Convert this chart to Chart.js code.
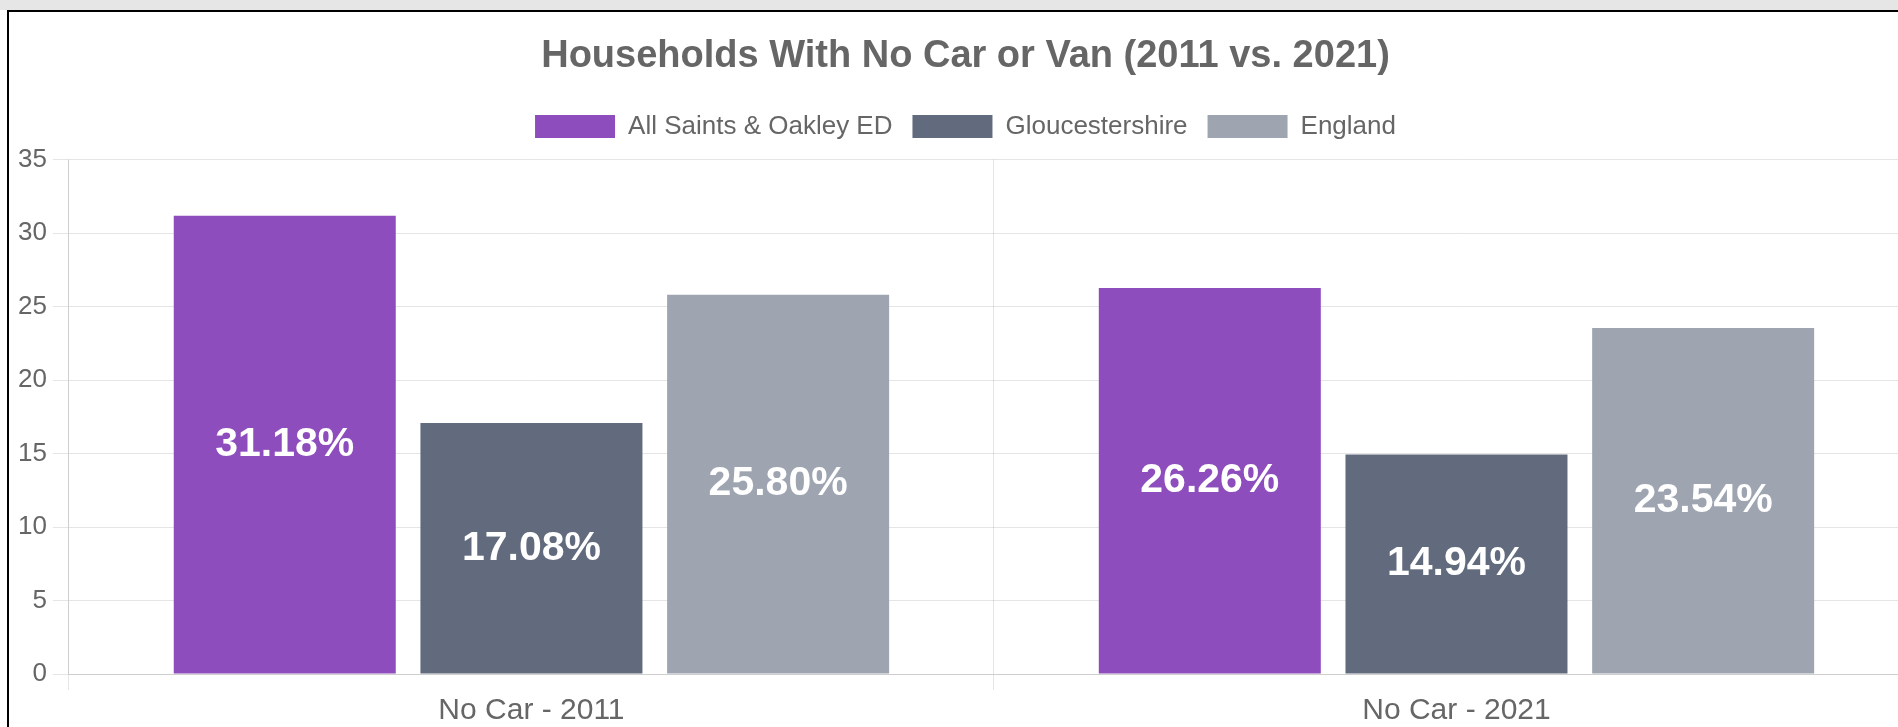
<!DOCTYPE html>
<html>
<head>
<meta charset="utf-8">
<title>Households With No Car or Van</title>
<script src="https://cdn.jsdelivr.net/npm/chart.js@4.4.0/dist/chart.umd.min.js"></script>
<style>
    body { margin: 0; background: #fff; overflow: hidden; }
    .topbar { height: 10px; background: #e6e6e6; }
    .frame {
        margin-left: 7px;
        border-left: 2px solid #000;
        border-top: 2px solid #000;
        width: 1914px;
        height: 760px;
    }
    canvas { display: block; }
</style>
</head>
<body>
<div class="topbar"></div>
<div class="frame">
    <canvas id="carChart" width="1914" height="720"></canvas>
</div>

<script>
// chart data
const categories = ['No Car - 2011', 'No Car - 2021'];
const allSaints = [31.18, 26.26];
const gloucestershire = [17.08, 14.94];
const england = [25.80, 23.54];
const yTicks = [0, 5, 10, 15, 20, 25, 30, 35];

const fontFamily = "'Liberation Sans', Arial, sans-serif";

// writes the value in the middle of every bar
const barLabels = {
    id: 'barLabels',
    afterDatasetsDraw(chart) {
        const ctx = chart.ctx;
        ctx.save();
        ctx.font = 'bold 41px ' + fontFamily;
        ctx.fillStyle = '#fff';
        ctx.textAlign = 'center';
        ctx.textBaseline = 'middle';
        chart.data.datasets.forEach(function (ds, i) {
            chart.getDatasetMeta(i).data.forEach(function (bar, j) {
                ctx.fillText(ds.data[j].toFixed(2) + '%', bar.x, (bar.y + bar.base) / 2);
            });
        });
        ctx.restore();
    }
};

// a bit more room under the legend
const legendGap = {
    id: 'legendGap',
    beforeInit(chart) {
        const fit = chart.legend.fit;
        chart.legend.fit = function () {
            fit.bind(chart.legend)();
            this.height += 10;
        };
    }
};

const ctx = document.getElementById('carChart').getContext('2d');
const chart = new Chart(ctx, {
    type: 'bar',
    data: {
        labels: categories,
        datasets: [{
            label: 'All Saints & Oakley ED',
            backgroundColor: 'rgb(142, 77, 189)',
            data: allSaints
        }, {
            label: 'Gloucestershire',
            backgroundColor: 'rgb(97, 107, 125)',
            data: gloucestershire
        }, {
            label: 'England',
            backgroundColor: 'rgb(158, 165, 177)',
            data: england
        }]
    },
    options: {
        responsive: false,
        animation: false,
        devicePixelRatio: 1,
        layout: { padding: { left: 3, right: 4 } },
        plugins: {
            title: {
                display: true,
                text: 'Households With No Car or Van (2011 vs. 2021)',
                color: '#666',
                font: { family: fontFamily, size: 38, weight: 'bold' },
                padding: { top: 22, bottom: 14 }
            },
            legend: {
                labels: {
                    color: '#666',
                    boxWidth: 80,
                    boxHeight: 23,
                    padding: 20,
                    font: { family: fontFamily, size: 26 }
                }
            },
            tooltip: { enabled: false }
        },
        scales: {
            x: {
                grid: { tickLength: 16 },
                ticks: {
                    color: '#666',
                    padding: 3,
                    font: { family: fontFamily, size: 30 }
                }
            },
            y: {
                min: 0,
                max: 35,
                afterBuildTicks(axis) {
                    axis.ticks = yTicks.map(v => ({ value: v }));
                },
                grid: { tickLength: 16 },
                ticks: {
                    color: '#666',
                    padding: 6,
                    font: { family: fontFamily, size: 26 }
                }
            }
        }
    },
    plugins: [barLabels, legendGap]
});
</script>
</body>
</html>
